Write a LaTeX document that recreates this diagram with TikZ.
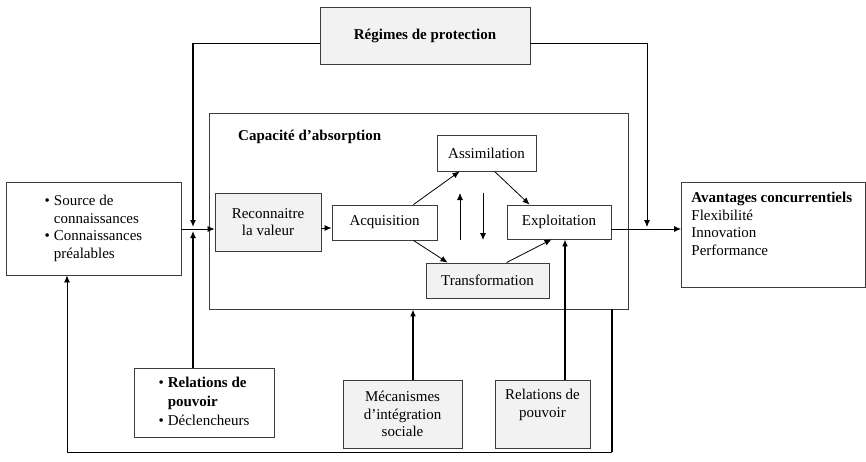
\documentclass[tikz,border=0pt]{standalone}
\usepackage{fontspec}
\setmainfont{Liberation Serif}
\usetikzlibrary{arrows.meta,calc}
\definecolor{boxfill}{RGB}{242,242,242}
\definecolor{boxdraw}{RGB}{60,60,60}
\newcommand{\mytopbox}[4]{\parbox[c][#1][t]{#2}{\vspace*{#3}#4}}
\begin{document}
\begin{tikzpicture}[x=1pt,y=-1pt,
  every node/.style={font=\fontsize{15}{17.5}\selectfont, inner sep=0pt},
  box/.style={draw=boxdraw, line width=0.9pt, fill=white, align=center},
  gbox/.style={box, fill=boxfill},
  arr/.style={-{Latex[length=7pt,width=6pt]}, line width=0.8pt},
  heavy/.style={line width=1.8pt},
  plain/.style={line width=0.8pt}
]
\useasboundingbox (0,0) rectangle (866,461);

% boxes
\node[gbox, minimum width=210, minimum height=57] (reg) at (425,35.5) {\textbf{Régimes de protection}};
\node[box, minimum width=419, minimum height=196] (cap) at (418.5,211) {};
\node[anchor=west] (captitle) at (238,137) {\textbf{Capacité d’absorption}};
\node[gbox, minimum width=106, minimum height=58] (reco) at (268,222) {Reconnaitre\\la valeur};
\node[box, minimum width=105, minimum height=35] (acq) at (384.5,222.5) {Acquisition};
\node[box, minimum width=99, minimum height=36] (assim) at (486.5,153) {Assimilation};
\node[box, minimum width=104, minimum height=34] (expl) at (559,222) {Exploitation};
\node[gbox, minimum width=123, minimum height=35] (trans) at (487.5,280.5) {Transformation};

\node[box, minimum width=175, minimum height=93] (src) at (93.5,228.5)
  {\begin{tabular}{@{}l@{\hspace{4pt}}l@{}}
   \textbullet & Source de\\
               & connaissances\\
   \textbullet & Connaissances\\
               & préalables
   \end{tabular}};

\node[box, minimum width=184, minimum height=105, anchor=north west] (avant) at (681,182)
  {\hspace*{10pt}\mytopbox{105pt}{170pt}{8pt}{\raggedright\strut\textbf{Avantages concurrentiels}\\Flexibilité\\Innovation\\Performance}\hspace*{4pt}};

\node[box, minimum width=140, minimum height=69] (relL) at (204,402.5)
  {\begin{tabular}{@{}l@{\hspace{4pt}}l@{}}
   \textbullet & \textbf{Relations de}\\[1.5pt]
               & \textbf{pouvoir}\\[1.5pt]
   \textbullet & Déclencheurs
   \end{tabular}};

\node[gbox, minimum width=119, minimum height=68] (meca) at (402.5,414)
  {Mécanismes\\d’intégration\\sociale};
\node[gbox, minimum width=95, minimum height=68, anchor=north] (relR) at (542.5,380)
  {\mytopbox{68pt}{95pt}{7pt}{\centering\strut Relations de\\pouvoir}};

% helper coordinates
\coordinate (tl) at (193,43);
\coordinate (tr) at (647,43);
\coordinate (jl) at (193,229);
\coordinate (ra) at (0,228);
\coordinate (ea) at (0,229);
\coordinate (u1) at (460,240);
\coordinate (u2) at (460,193);
\coordinate (d1) at (483,193);
\coordinate (d2) at (483,240);
\coordinate (mc) at ($(meca.north)+(10.5,0)$);
\coordinate (rc) at ($(relR.north)+(22.5,0)$);
\coordinate (f1) at (612,309);
\coordinate (f2) at (612,452);
\coordinate (f3) at (67,452);

% protection regimes
\draw[plain] (reg.west |- tl) -- (tl);
\draw[arr, heavy] (tl) -- ($(jl)+(0,-2)$);
\draw[arr] (reg.east |- tr) -- (tr) -- (647,227);

% inputs
\draw[arr] (src.east |- jl) -- (reco.west |- jl);
\draw[arr, heavy] (relL.north -| jl) -- ($(jl)+(0,2)$);

% inner flows
\draw[arr] (reco.east |- ra) -- (acq.west |- ra);
\draw[arr] ($(acq.north east)+(-24,0)$) -- ($(assim.south west)+(23,0)$);
\draw[arr] ($(assim.south west)+(58,0)$) -- ($(expl.north west)+(23,0)$);
\draw[arr] ($(acq.south east)+(-24,0)$) -- ($(trans.north west)+(22,0)$);
\draw[arr] ($(trans.north west)+(81,0)$) -- ($(expl.south west)+(45,0)$);
\draw[arr] (u1) -- (u2);
\draw[arr] (d1) -- (d2);

% outputs
\draw[arr] (expl.east |- ea) -- (avant.west |- ea);
\draw[arr, heavy] (mc) -- (mc |- cap.south);
\draw[arr, heavy] (rc) -- (rc |- expl.south);

% feedback
\draw[heavy] (f1) -- (f2);
\draw[arr] (f2) -- (f3) -- (f3 |- src.south);
\end{tikzpicture}
\end{document}
